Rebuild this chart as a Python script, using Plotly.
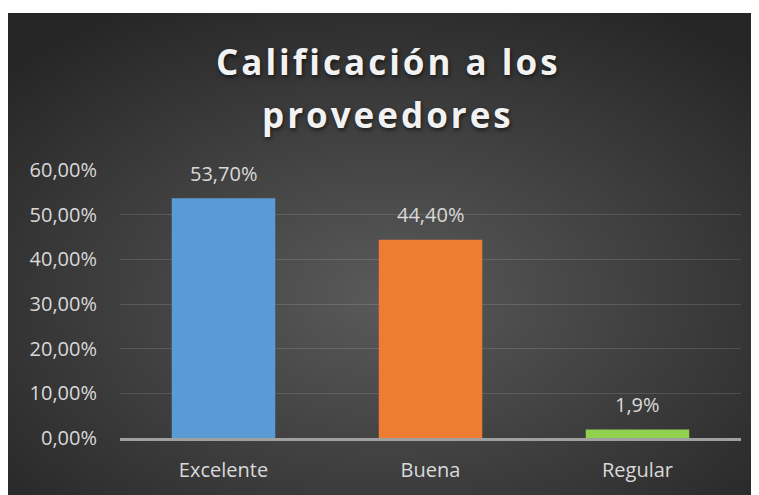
import base64

import plotly.graph_objects as go

# Data
categories = ["Excelente", "Buena", "Regular"]
values = [0.537, 0.444, 0.019]
value_labels = ["53,70%", "44,40%", "1,9%"]
bar_colors = ["#5B9BD5", "#ED7D31", "#92D050"]
title_lines = ["Calificación a los", "proveedores"]

W, H = 759, 495
# page body adds an 8px offset, so figure coords = screen coords - 8
L, R, T, B = 112, 26, 162, 65
plot_w = W - L - R
plot_h = H - T - B


def px_to_paper_x(px):
    return (px - L) / plot_w


def px_to_paper_y(py):
    return (H - B - py) / plot_h


# Dark radial gradient behind the chart (Excel style)
bg_svg = """<svg xmlns='http://www.w3.org/2000/svg' width='760' height='490' preserveAspectRatio='none'>
<defs><radialGradient id='g' cx='50%' cy='58%' r='68%'>
<stop offset='0%' stop-color='#5a5a5a'/><stop offset='100%' stop-color='#262626'/>
</radialGradient></defs>
<rect width='760' height='490' fill='url(#g)'/></svg>"""
bg_uri = "data:image/svg+xml;base64," + base64.b64encode(bg_svg.encode()).decode()

fig = go.Figure()

fig.add_trace(
    go.Bar(
        x=categories,
        y=values,
        marker=dict(color=bar_colors, line=dict(width=0)),
        hoverinfo="skip",
    )
)

# Data labels above the bars
for cat, val, lab in zip(categories, values, value_labels):
    fig.add_annotation(
        x=cat, y=val, text=lab, showarrow=False,
        yanchor="middle", yshift=25,
        font=dict(family="Open Sans", size=20, color="#d9d9d9"),
    )

# Title, two lines with a soft shadow
title_y = [54, 106]
for line, ypx in zip(title_lines, title_y):
    fig.add_annotation(
        xref="paper", yref="paper",
        x=px_to_paper_x(380), y=px_to_paper_y(ypx),
        text=f"<span style='letter-spacing:3px'>{line}</span>",
        showarrow=False, xanchor="center", yanchor="middle",
        font=dict(family="Open Sans", size=35, color="#f2f2f2",
                  weight="bold", shadow="1px 2px 4px rgba(0,0,0,0.6)"),
    )

fig.add_layout_image(
    source=bg_uri,
    xref="paper", yref="paper",
    x=px_to_paper_x(0), y=px_to_paper_y(5),
    sizex=W / plot_w, sizey=(H - 5) / plot_h,
    xanchor="left", yanchor="top",
    sizing="stretch", layer="below",
)

fig.update_layout(
    width=W, height=H,
    margin=dict(l=L, r=R, t=T, b=B, pad=0),
    paper_bgcolor="white",
    plot_bgcolor="rgba(0,0,0,0)",
    separators=",.",
    bargap=0.5,
    showlegend=False,
    font=dict(family="Open Sans", color="#d9d9d9"),
)

fig.update_yaxes(
    range=[0, 0.6],
    dtick=0.1,
    tickformat=".2%",
    showgrid=True,
    gridcolor="rgba(255,255,255,0.13)",
    gridwidth=1.3,
    zeroline=False,
    showline=False,
    ticks="",
    ticklabelstandoff=22,
    tickfont=dict(family="Open Sans", size=20, color="#d9d9d9"),
)

fig.update_xaxes(
    showline=True,
    linecolor="#a0a0a0",
    linewidth=2.5,
    showgrid=False,
    ticks="",
    ticklabelstandoff=12,
    tickfont=dict(family="Open Sans", size=20, color="#d9d9d9"),
)

fig.write_html("out.html")
